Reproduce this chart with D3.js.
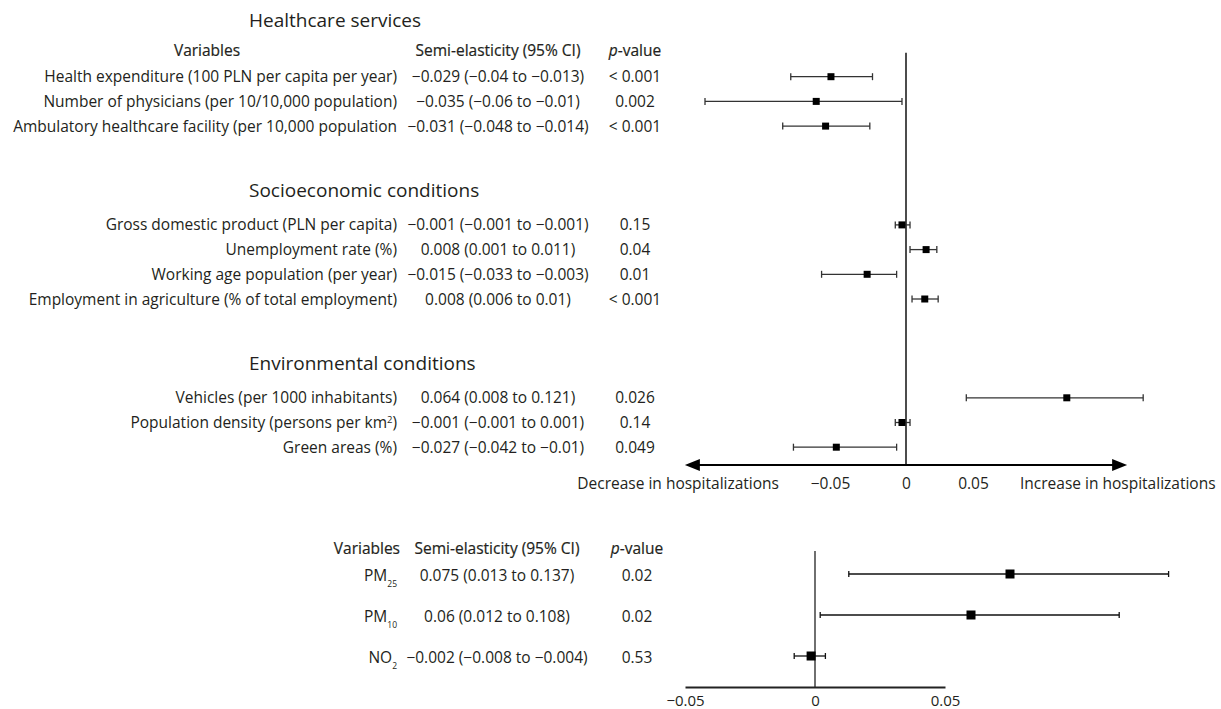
<!DOCTYPE html>
<html><head><meta charset="utf-8">
<script src="https://cdn.jsdelivr.net/npm/d3@7"></script>
<style>
body{margin:0;background:#fff}
svg{display:block}
text{font-family:"Open Sans",sans-serif;fill:#231f20}
</style>
</head><body>
<svg id="c" width="1221" height="709"></svg>
<script>
// ---------- data ----------
const sectionTitles = ["Healthcare services", "Socioeconomic conditions", "Environmental conditions"];
const sectionCounts = [3, 4, 3];
const headerTexts = ["Variables", "Semi-elasticity (95% CI)", "p-value"];
const variables = [
  "Health expenditure (100 PLN per capita per year)",
  "Number of physicians (per 10/10,000 population)",
  "Ambulatory healthcare facility (per 10,000 population",
  "Gross domestic product (PLN per capita)",
  "Unemployment rate (%)",
  "Working age population (per year)",
  "Employment in agriculture (% of total employment)",
  "Vehicles (per 1000 inhabitants)",
  "Population density (persons per km^{2})",
  "Green areas (%)"
];
const estimateTexts = [
  "−0.029 (−0.04 to −0.013)",
  "−0.035 (−0.06 to −0.01)",
  "−0.031 (−0.048 to −0.014)",
  "−0.001 (−0.001 to −0.001)",
  "0.008 (0.001 to 0.011)",
  "−0.015 (−0.033 to −0.003)",
  "0.008 (0.006 to 0.01)",
  "0.064 (0.008 to 0.121)",
  "−0.001 (−0.001 to 0.001)",
  "−0.027 (−0.042 to −0.01)"
];
const pValues = ["< 0.001", "0.002", "< 0.001", "0.15", "0.04", "0.01", "< 0.001", "0.026", "0.14", "0.049"];
// plotted marks in axis units
const pointEst = [-0.056, -0.067, -0.060, -0.003, 0.015, -0.029, 0.014, 0.120, -0.003, -0.052];
const ciLow    = [-0.086, -0.150, -0.092, -0.008, 0.003, -0.063, 0.0045, 0.045, -0.008, -0.084];
const ciHigh   = [-0.025, -0.003, -0.027, 0.003, 0.023, -0.007, 0.024, 0.177, 0.003, -0.007];
const topTicks = [-0.05, 0, 0.05];
const arrowExtent = [-0.165, 0.165];
const directionLabels = ["Decrease in hospitalizations", "Increase in hospitalizations"];

const pollutants = ["PM_{25}", "PM_{10}", "NO_{2}"];
const pollEstTexts = ["0.075 (0.013 to 0.137)", "0.06 (0.012 to 0.108)", "−0.002 (−0.008 to −0.004)"];
const pollP = ["0.02", "0.02", "0.53"];
const pollPoint = [0.075, 0.060, -0.0015];
const pollLow = [0.013, 0.002, -0.008];
const pollHigh = [0.136, 0.117, 0.004];
const bottomTicks = [-0.05, 0, 0.05];

// ---------- helpers ----------
const svg = d3.select("#c");
const FS = 15.5;
const BL = FS * 0.36; // baseline offset from row centre
function rich(t, str) {
  const parts = str.split(/(\^\{[^}]*\}|_\{[^}]*\})/).filter(p => p);
  let shift = 0;
  parts.forEach(p => {
    let ts;
    if (p.startsWith("^{")) {
      ts = t.append("tspan").attr("font-size", 9.5).attr("dy", -5 - shift).text(p.slice(2, -1));
      shift = -5;
    } else if (p.startsWith("_{")) {
      ts = t.append("tspan").attr("font-size", 8.5).attr("dy", 6 - shift).text(p.slice(2, -1));
      shift = 6;
    } else {
      ts = t.append("tspan").text(p);
      if (shift) ts.attr("dy", -shift);
      shift = 0;
    }
  });
}
const fmt = d => d === 0 ? "0" : d3.format(".2f")(d);
function header(g, xx, y, anchor, str) {
  const t = g.append("text").attr("x", xx).attr("y", y + BL).attr("text-anchor", anchor)
    .attr("stroke", "#231f20").attr("stroke-width", 0.2);
  if (str.startsWith("p-")) {
    t.append("tspan").attr("font-style", "italic").text(str.slice(0, 1));
    t.append("tspan").text(str.slice(1));
  } else t.text(str);
  return t;
}

// ---------- top panel ----------
const x = d3.scaleLinear().domain([-0.05, 0.05]).range([839, 973]);
const ySlot = d3.scaleLinear().domain([0, 1]).range([76.7, 101.4]);
const labelRight = 397, estCenter = 498, pCenter = 635;

const sectionStart = [];
let s0 = 0;
sectionCounts.forEach((c, i) => { sectionStart.push(s0); s0 += c + 3; });
const rowSlot = [];
sectionCounts.forEach((c, i) => { for (let k = 0; k < c; k++) rowSlot.push(sectionStart[i] + k); });

svg.selectAll("text.sect").data(sectionTitles).join("text")
  .attr("class", "sect")
  .attr("x", 249)
  .attr("y", (d, i) => ySlot(i === 0 ? -2.3 : sectionStart[i] - 1.4) + 19 * 0.36)
  .attr("font-size", 19)
  .text(d => d);

const hdr = svg.append("g").attr("font-size", FS);
header(hdr, 207, ySlot(-1.05), "middle", headerTexts[0]);
header(hdr, estCenter, ySlot(-1.05), "middle", headerTexts[1]);
header(hdr, pCenter, ySlot(-1.05), "middle", headerTexts[2]);

const rows = svg.append("g").attr("font-size", FS);
variables.forEach((v, i) => {
  const y = ySlot(rowSlot[i]) + BL;
  const t = rows.append("text").attr("x", labelRight).attr("y", y).attr("text-anchor", "end");
  rich(t, v);
  rows.append("text").attr("x", estCenter).attr("y", y).attr("text-anchor", "middle").text(estimateTexts[i]);
  rows.append("text").attr("x", pCenter).attr("y", y).attr("text-anchor", "middle").text(pValues[i]);
});

const arrowY = 465;
svg.append("line").attr("x1", x(0)).attr("x2", x(0)).attr("y1", ySlot(-0.97)).attr("y2", arrowY)
  .attr("stroke", "#111").attr("stroke-width", 1.5);

const marks = svg.append("g");
variables.forEach((v, i) => {
  const y = ySlot(rowSlot[i]);
  marks.append("line").attr("x1", x(ciLow[i])).attr("x2", x(ciHigh[i])).attr("y1", y).attr("y2", y)
    .attr("stroke", "#333").attr("stroke-width", 1.3);
  [ciLow[i], ciHigh[i]].forEach(c => marks.append("line").attr("x1", x(c)).attr("x2", x(c))
    .attr("y1", y - 3.5).attr("y2", y + 3.5).attr("stroke", "#333").attr("stroke-width", 1.3));
  marks.append("rect").attr("x", x(pointEst[i]) - 3.5).attr("y", y - 3.5).attr("width", 7).attr("height", 7).attr("fill", "#000");
});

const ax1 = x(arrowExtent[0]), ax2 = x(arrowExtent[1]);
svg.append("line").attr("x1", ax1 + 10).attr("x2", ax2 - 10).attr("y1", arrowY).attr("y2", arrowY)
  .attr("stroke", "#000").attr("stroke-width", 2);
svg.append("path").attr("d", `M${ax1},${arrowY} L${ax1 + 15},${arrowY - 6} L${ax1 + 15},${arrowY + 6} Z`).attr("fill", "#000");
svg.append("path").attr("d", `M${ax2},${arrowY} L${ax2 - 15},${arrowY - 6} L${ax2 - 15},${arrowY + 6} Z`).attr("fill", "#000");

const labelY = arrowY + 24;
const topAxis = svg.append("g").attr("transform", `translate(0,${labelY})`)
  .call(d3.axisBottom(x).tickValues(topTicks).tickSize(0).tickPadding(0).tickFormat(fmt));
topAxis.select(".domain").remove();
topAxis.selectAll("text").attr("font-family", "Open Sans, sans-serif").attr("font-size", FS).attr("fill", "#231f20")
  .attr("y", 0).attr("dy", 0).attr("dx", d => d < 0 ? -9 : 0);

svg.append("text").attr("x", 779).attr("y", labelY).attr("text-anchor", "end").attr("font-size", FS).text(directionLabels[0]);
svg.append("text").attr("x", 1020).attr("y", labelY).attr("text-anchor", "start").attr("font-size", FS).text(directionLabels[1]);

// ---------- bottom panel ----------
const xb = d3.scaleLinear().domain([-0.05, 0.05]).range([685, 945]);
const yb = d3.scaleLinear().domain([0, 1]).range([574, 615]);
const bEst = 497, bP = 637;

const bh = svg.append("g").attr("font-size", FS);
header(bh, 400, yb(-0.63), "end", headerTexts[0]);
header(bh, bEst, yb(-0.63), "middle", headerTexts[1]);
header(bh, bP, yb(-0.63), "middle", headerTexts[2]);

const brows = svg.append("g").attr("font-size", FS);
pollutants.forEach((v, i) => {
  const y = yb(i) + BL + 1;
  const t = brows.append("text").attr("x", 397).attr("y", y).attr("text-anchor", "end");
  rich(t, v);
  brows.append("text").attr("x", bEst).attr("y", y).attr("text-anchor", "middle").text(pollEstTexts[i]);
  brows.append("text").attr("x", bP).attr("y", y).attr("text-anchor", "middle").text(pollP[i]);
});

const bAxisY = 687;
svg.append("line").attr("x1", xb(0)).attr("x2", xb(0)).attr("y1", yb(-0.56)).attr("y2", bAxisY)
  .attr("stroke", "#222").attr("stroke-width", 1.3);

const bmarks = svg.append("g");
pollutants.forEach((v, i) => {
  const y = yb(i);
  bmarks.append("line").attr("x1", xb(pollLow[i])).attr("x2", xb(pollHigh[i])).attr("y1", y).attr("y2", y)
    .attr("stroke", "#111").attr("stroke-width", 1.3);
  [pollLow[i], pollHigh[i]].forEach(c => bmarks.append("line").attr("x1", xb(c)).attr("x2", xb(c))
    .attr("y1", y - 3).attr("y2", y + 3).attr("stroke", "#111").attr("stroke-width", 1.3));
  bmarks.append("rect").attr("x", xb(pollPoint[i]) - 4.5).attr("y", y - 4.5).attr("width", 9).attr("height", 9).attr("fill", "#000");
});

const bAxis = svg.append("g").attr("transform", `translate(0,${bAxisY})`)
  .call(d3.axisBottom(xb).tickValues(bottomTicks).tickSize(0).tickPadding(0).tickFormat(fmt));
bAxis.select(".domain").attr("stroke", "#222").attr("stroke-width", 1.8);
bAxis.selectAll("text").attr("font-family", "Open Sans, sans-serif").attr("font-size", FS - 0.5).attr("fill", "#231f20")
  .attr("dy", 0).attr("y", 19);
</script>
</body></html>
